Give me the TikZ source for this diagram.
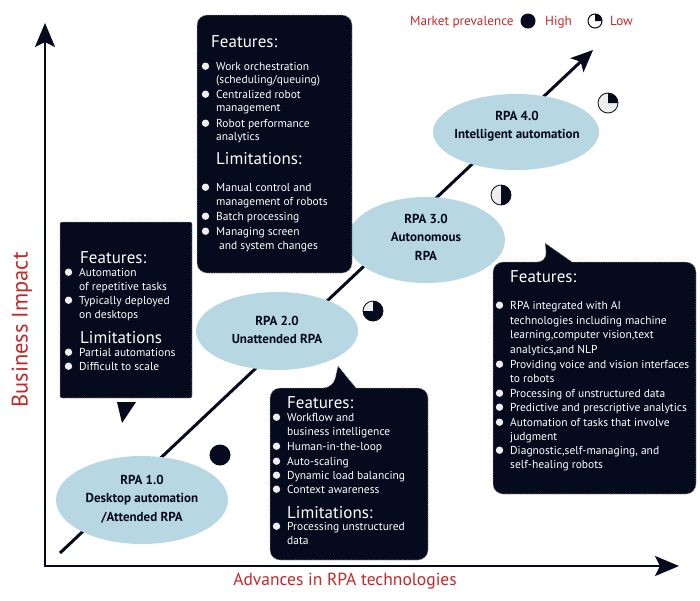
\documentclass[tikz,border=0pt]{standalone}
\usepackage{fontspec}
\setmainfont{PT Sans}
\usetikzlibrary{arrows.meta,shapes.geometric}
\definecolor{navy}{HTML}{050A1C}
\definecolor{ellc}{HTML}{B7D7E3}
\definecolor{redlab}{HTML}{C62828}
\definecolor{bul}{HTML}{EEEEEE}
\tikzset{
 box/.style={fill=navy, draw=gray!60, densely dotted, line width=0.7pt},
 hd/.style={anchor=base west, inner sep=0, text=white, font=\fontsize{17}{19}\selectfont},
 itx/.style={anchor=base west, inner sep=0, text=white, font=\fontsize{11.5}{13}\selectfont},
 rpa/.style={ellipse, fill=ellc, inner sep=0},
 rpatext/.style={align=center, inner sep=0, text=navy, font=\fontsize{13}{18.5}\selectfont\bfseries},
 axlab/.style={text=redlab, inner sep=0},
 bigarrow/.style={-{Stealth[length=22pt,width=19pt,inset=5pt]}},
}
\newcommand\bitem[4]{\fill[bul] (#2-10.5,#3-3.8) circle (3.7); \node[itx] (#1) at (#2,#3) {#4};}
\newcommand\citem[4]{\node[itx] (#1) at (#2,#3) {#4};}
\begin{document}
\begin{tikzpicture}[x=1pt,y=-1pt]
\useasboundingbox (0,0) rectangle (700,600);
% axes
\coordinate (o) at (45,566);
\coordinate (ytip) at (45,23);
\coordinate (xtip) at (679,566);
\draw[line width=2.4pt, navy, {Stealth[length=24pt,width=20pt,inset=5pt]}-{Stealth[length=24pt,width=20pt,inset=5pt]}] (ytip) -- (o) -- (xtip);
\node[axlab, rotate=90, font=\fontsize{22.5}{26}\selectfont] (ylab) at (22,330) {Business Impact};
\node[axlab, font=\fontsize{17.5}{20}\selectfont] (xlab) at (345,581) {Advances in RPA technologies};
% diagonal
\coordinate (ds) at (60,553);
\coordinate (de) at (593,50);
\draw[line width=3pt, navy, bigarrow] (ds) -- (de);
% ellipses
\node[rpa, minimum width=172pt, minimum height=88pt] (r1) at (142,500) {};
\node[rpatext] (t1) at (142,499) {RPA 1.0\\Desktop automation\\/Attended RPA};
\node[rpa, minimum width=162pt, minimum height=78pt] (r2) at (277,331) {};
\node[rpatext] (t2) at (277,330) {RPA 2.0\\Unattended RPA};
\node[rpa, minimum width=158pt, minimum height=86pt] (r3) at (426,240) {};
\node[rpatext] (t3) at (426,237) {RPA 3.0\\Autonomous\\RPA};
\node[rpa, minimum width=166pt, minimum height=76pt] (r4) at (516,132) {};
\node[rpatext] (t4) at (517,126) {RPA 4.0\\Intelligent automation};
% markers
\fill[navy] (220,455) circle (10.5);
\filldraw[fill=bul, draw=navy, line width=0.8pt] (373,311) circle (10);
\fill[navy] (373,311) -- ++(0:10) arc[start angle=0, end angle=180, radius=10] -- cycle;
\fill[navy] (373,311) -- ++(0:10) arc[start angle=0, end angle=-90, radius=10] -- cycle;
\filldraw[fill=bul, draw=navy, line width=0.8pt] (501,195) circle (10);
\fill[navy] (501,195) -- ++(-90:10) arc[start angle=-90, end angle=90, radius=10] -- cycle;
\filldraw[fill=bul, draw=navy, line width=0.8pt] (608,103) circle (10);
\fill[navy] (608,103) -- ++(0:10) arc[start angle=0, end angle=-90, radius=10] -- cycle;
% legend
\node[axlab, anchor=base west, font=\fontsize{13.2}{15}\selectfont] (lg) at (410,25) {Market prevalence};
\fill[navy] (528,21) circle (7.5);
\node[axlab, anchor=base west, font=\fontsize{13.2}{15}\selectfont] (lgh) at (545,25) {High};
\filldraw[fill=white, draw=navy, line width=1pt] (595,21) circle (7);
\fill[navy] (595,21) -- ++(0:7) arc[start angle=0, end angle=-90, radius=7] -- cycle;
\node[axlab, anchor=base west, font=\fontsize{13.2}{15}\selectfont] (lgl) at (610,25) {Low};
% Box A
\draw[box, rounded corners=10] (197,15) rectangle (352,273);
\node[hd] (ha1) at (211,47) {Features:};
\bitem{a1}{216}{70}{Work orchestration}
\citem{a1b}{216}{83}{(scheduling/queuing)}
\bitem{a2}{216}{98}{Centralized robot}
\citem{a2b}{216}{111}{management}
\bitem{a3}{216}{127}{Robot performance}
\citem{a3b}{216}{140}{analytics}
\node[hd] (ha2) at (216,164) {Limitations:};
\bitem{a4}{216}{191}{Manual control and}
\citem{a4b}{216}{205}{management of robots}
\bitem{a5}{216}{220}{Batch processing}
\bitem{a6}{216}{235}{Managing screen}
\citem{a6b}{219}{249}{and system changes}
% Box B
\draw[box, rounded corners=2] (60,222) rectangle (192,398);
\fill[navy] (117,402) -- (136,402) -- (122,423) -- cycle;
\node[hd] (hb1) at (80,263) {Features:};
\bitem{b1}{79}{276}{Automation}
\citem{b1b}{79}{290}{of repetitive tasks}
\bitem{b2}{79}{304}{Typically deployed}
\citem{b2b}{79}{318}{on desktops}
\node[hd] (hb2) at (80,343) {Limitations};
\bitem{b3}{79}{356}{Partial automations}
\bitem{b4}{79}{370}{Difficult to scale}
% Box C
\draw[box, rounded corners=10] (270,470) -- (270,388) -- (333,388) [sharp corners] -- (338,366) -- (356,388) [rounded corners=10] -- (428,388) -- (428,560) -- (270,560) -- cycle;
\node[hd] (hc1) at (287,408) {Features:};
\bitem{c1}{287}{421}{Workflow and}
\citem{c1b}{287}{435}{business intelligence}
\bitem{c2}{287}{450}{Human-in-the-loop}
\bitem{c3}{287}{465}{Auto-scaling}
\bitem{c4}{287}{479}{Dynamic load balancing}
\bitem{c5}{287}{493}{Context awareness}
\node[hd] (hc2) at (287,518) {Limitations:};
\bitem{c6}{287}{530}{Processing unstructured}
\citem{c6b}{287}{544}{data}
% Box D
\draw[box, rounded corners=10] (493,380) -- (493,262) -- (547,262) [sharp corners] -- (545,243) -- (572,262) [rounded corners=10] -- (696,262) -- (696,494) -- (493,494) -- cycle;
\node[hd] (hd1) at (510,282) {Features:};
\bitem{d1}{510}{309}{RPA integrated with AI}
\citem{d1b}{510}{324}{technologies including machine}
\citem{d1c}{510}{338}{learning,computer vision,text}
\citem{d1d}{510}{353}{analytics,and NLP}
\bitem{d2}{510}{368}{Providing voice and vision interfaces}
\citem{d2b}{510}{382}{to robots}
\bitem{d3}{510}{397}{Processing of unstructured data}
\bitem{d4}{510}{411}{Predictive and prescriptive analytics}
\bitem{d5}{510}{426}{Automation of tasks that involve}
\citem{d5b}{510}{440}{judgment}
\bitem{d6}{510}{454}{Diagnostic,self-managing, and}
\citem{d6b}{510}{468}{self-healing robots}
\end{tikzpicture}
\end{document}
